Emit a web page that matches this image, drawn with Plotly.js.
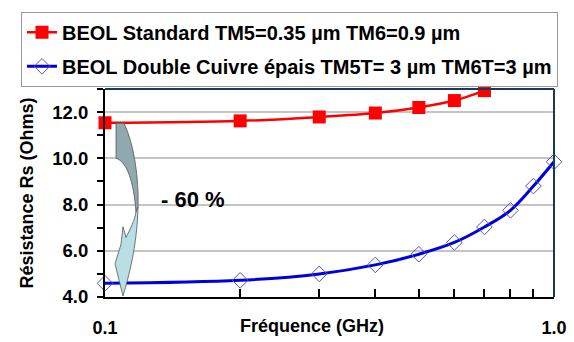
<!DOCTYPE html>
<html><head><meta charset="utf-8">
<script src="https://cdn.plot.ly/plotly-3.0.1.min.js"></script>
<style>body{margin:0;background:#fff}#c{width:574px;height:342px}</style>
</head><body><div id="c"></div>
<script>
// Data
const freqStd = [0.1, 0.2, 0.3, 0.4, 0.5, 0.6, 0.7];
const rsStd   = [11.54, 11.62, 11.79, 11.96, 12.2, 12.5, 12.93];
const freqCu  = [0.1, 0.2, 0.3, 0.4, 0.5, 0.6, 0.7, 0.8, 0.9, 1.0];
const rsCu    = [4.59, 4.72, 5.0, 5.39, 5.85, 6.36, 7.03, 7.75, 8.8, 9.85];
const nameStd = 'BEOL Standard TM5=0.35 µm TM6=0.9 µm';
const nameCu  = 'BEOL Double Cuivre épais TM5T= 3 µm TM6T=3 µm';
const xTickVals = [0.1, 1.0];
const xTickText = ['0.1', '1.0'];
const xMinorVals = [0.2, 0.3, 0.4, 0.5, 0.6, 0.7, 0.8, 0.9];

const W = 574, H = 342, L = 105, R = 20, T = 84, B = 45;
const pw = W - L - R, ph = H - T - B;
function px(x) { return (x - L) / pw; }
function py(y) { return (H - B - y) / ph; }
function P(x, y) { return px(x).toFixed(4) + ',' + py(y).toFixed(4); }

const F = {family: 'Liberation Sans, Arial, sans-serif', color: '#000', weight: 'bold'};

const traces = [
  {x: freqStd, y: rsStd, name: nameStd, type: 'scatter', mode: 'lines+markers', legendgroup: 'a',
   line: {color: '#ff0000', width: 2.5, shape: 'spline'},
   marker: {symbol: 'square', size: 13, color: '#ff0000'}, cliponaxis: false},
  {x: freqCu, y: rsCu, name: nameCu, type: 'scatter', mode: 'lines+markers', legendgroup: 'b',
   line: {color: '#0000dd', width: 3, shape: 'spline'},
   marker: {symbol: 'diamond-open', size: 12, color: '#5555aa', line: {width: 1}}, cliponaxis: false}
];

const darkPath = 'M' + P(116,119) + ' L' + P(124,119) + ' C' + P(134,140) + ' ' + P(139,175) + ' ' + P(138,205) +
  ' L' + P(136,210) + ' C' + P(134,180) + ' ' + P(127,158) + ' ' + P(116,155) + ' Z';
const lightPath = 'M' + P(138,205) + ' C' + P(137,245) + ' ' + P(129,275) + ' ' + P(123,296) +
  ' L' + P(115,263) + ' L' + P(121,243) + ' L' + P(123,225) + ' L' + P(126,236) +
  ' C' + P(130,228) + ' ' + P(135,218) + ' ' + P(136,210) + ' Z';

const layout = {
  width: W, height: H,
  margin: {l: L, r: R, t: T, b: B},
  paper_bgcolor: '#fff', plot_bgcolor: '#fff',
  font: Object.assign({size: 18}, F),
  showlegend: true,
  legend: {x: px(21), y: py(5), xanchor: 'left', yanchor: 'top',
    bgcolor: '#fff', bordercolor: '#999', borderwidth: 1,
    font: Object.assign({size: 20}, F), tracegroupgap: 5, itemwidth: 30},
  xaxis: {type: 'log', range: [-1, 0], tickmode: 'array', tickvals: xTickVals, ticktext: xTickText,
    ticks: '', showgrid: false, zeroline: false,
    showline: true, linecolor: '#000', linewidth: 2,
    tickfont: Object.assign({size: 18}, F), ticklabelstandoff: 13,
    minor: {tickmode: 'array', tickvals: xMinorVals, ticks: 'inside', ticklen: 8, tickwidth: 2, tickcolor: '#000', showgrid: false}},
  yaxis: {range: [4, 13], dtick: 2, tick0: 4, tickformat: '.1f',
    ticks: 'outside', ticklen: 6, tickwidth: 2, tickcolor: '#000',
    showgrid: true, gridcolor: '#c4c4c4', gridwidth: 2, zeroline: false,
    showline: true, linecolor: '#000', linewidth: 2,
    tickfont: Object.assign({size: 18.5}, F), ticklabelstandoff: 5,
    minor: {dtick: 1, ticks: 'outside', ticklen: 6, tickwidth: 2, tickcolor: '#000', showgrid: false},
    title: {text: 'Résistance Rs (Ohms)', font: Object.assign({size: 18}, F), standoff: 14}},
  shapes: [
    {type: 'line', xref: 'paper', yref: 'paper', x0: 0, x1: 1, y0: 1, y1: 1, line: {color: '#1a3a5c', width: 2}},
    {type: 'line', xref: 'paper', yref: 'paper', x0: 1, x1: 1, y0: 0, y1: 1, line: {color: '#1a3a5c', width: 2}},
    {type: 'path', xref: 'paper', yref: 'paper', path: darkPath, fillcolor: '#8fa9ae', line: {color: '#555', width: 0.8}},
    {type: 'path', xref: 'paper', yref: 'paper', path: lightPath, fillcolor: '#b9dfe5', line: {color: '#555', width: 0.8}}
  ],
  annotations: [
    {text: '- 60 %', xref: 'paper', yref: 'paper', x: px(193), y: py(197), xanchor: 'center', yanchor: 'middle',
     showarrow: false, font: Object.assign({size: 22}, F)},
    {text: 'Fréquence (GHz)', xref: 'paper', yref: 'paper', x: px(312), y: py(327), xanchor: 'center', yanchor: 'middle',
     showarrow: false, font: Object.assign({size: 18}, F)}
  ]
};

Plotly.newPlot('c', traces, layout, {displayModeBar: false, staticPlot: true});
</script></body></html>
